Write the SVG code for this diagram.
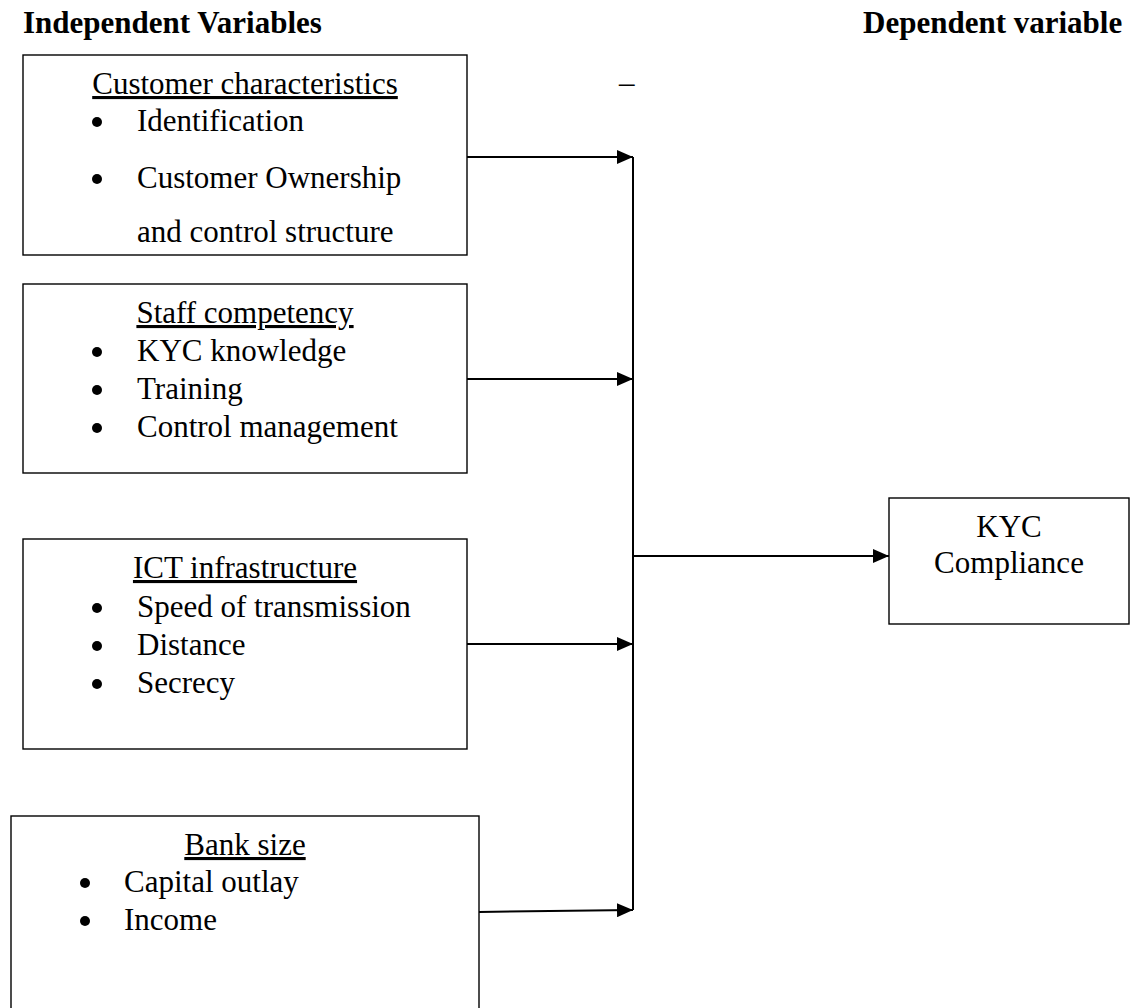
<svg xmlns="http://www.w3.org/2000/svg" width="1132" height="1008" viewBox="0 0 1132 1008">
<defs>
<style>
text{font-family:"Liberation Serif","Times New Roman",serif;font-size:31px;fill:#000}
.title{font-weight:bold}
.head{text-anchor:middle;text-decoration:underline}
.mid{text-anchor:middle}
.box{fill:#fff;stroke:#000;stroke-width:1.4}
.conn{fill:none;stroke:#000;stroke-width:2}
.bul{fill:#000}
</style>
<marker id="arr" markerUnits="userSpaceOnUse" markerWidth="16" markerHeight="14" refX="16" refY="7" orient="auto">
<path d="M0,0 L16,7 L0,14 Z" fill="#000"/>
</marker>
</defs>
<rect width="1132" height="1008" fill="#fff"/>
<text class="title" x="23" y="33">Independent Variables</text>
<text class="title" x="863" y="33">Dependent variable</text>
<text x="619" y="93">–</text>
<g id="customer">
<rect class="box" x="23" y="55" width="444" height="200"/>
<text class="head" x="245" y="94">Customer characteristics</text>
<circle class="bul" cx="97" cy="122" r="5"/>
<text x="137" y="131">Identification</text>
<circle class="bul" cx="97" cy="179" r="5"/>
<text x="137" y="188">Customer Ownership</text>
<text x="137" y="242">and control structure</text>
</g>
<g id="staff">
<rect class="box" x="23" y="284" width="444" height="189"/>
<text class="head" x="245" y="323">Staff competency</text>
<circle class="bul" cx="97" cy="352" r="5"/>
<text x="137" y="361">KYC knowledge</text>
<circle class="bul" cx="97" cy="390" r="5"/>
<text x="137" y="399">Training</text>
<circle class="bul" cx="97" cy="428" r="5"/>
<text x="137" y="437">Control management</text>
</g>
<g id="ict">
<rect class="box" x="23" y="539" width="444" height="210"/>
<text class="head" x="245" y="578">ICT infrastructure</text>
<circle class="bul" cx="97" cy="608" r="5"/>
<text x="137" y="617">Speed of transmission</text>
<circle class="bul" cx="97" cy="646" r="5"/>
<text x="137" y="655">Distance</text>
<circle class="bul" cx="97" cy="684" r="5"/>
<text x="137" y="693">Secrecy</text>
</g>
<g id="bank">
<rect class="box" x="11" y="816" width="468" height="220"/>
<text class="head" x="245" y="855">Bank size</text>
<circle class="bul" cx="85" cy="883" r="5"/>
<text x="124" y="892">Capital outlay</text>
<circle class="bul" cx="85" cy="921" r="5"/>
<text x="124" y="930">Income</text>
</g>
<g id="kyc">
<rect class="box" x="889" y="498" width="240" height="126"/>
<text class="mid" x="1009" y="537">KYC</text>
<text class="mid" x="1009" y="573">Compliance</text>
</g>
<g id="connectors">
<line class="conn" x1="467" y1="157" x2="633" y2="157" marker-end="url(#arr)"/>
<line class="conn" x1="467" y1="379" x2="633" y2="379" marker-end="url(#arr)"/>
<line class="conn" x1="467" y1="644" x2="633" y2="644" marker-end="url(#arr)"/>
<line class="conn" x1="479" y1="912" x2="633" y2="910" marker-end="url(#arr)"/>
<line class="conn" x1="633" y1="157" x2="633" y2="910"/>
<line class="conn" x1="633" y1="556" x2="889" y2="556" marker-end="url(#arr)"/>
</g>
</svg>
